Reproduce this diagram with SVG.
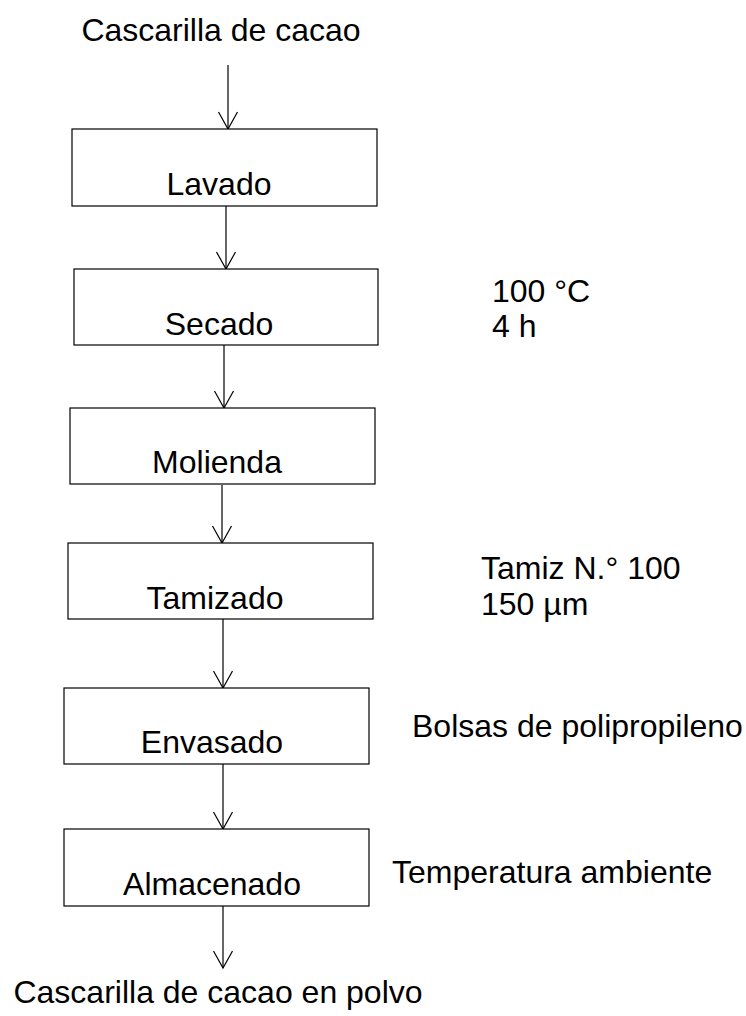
<svg xmlns="http://www.w3.org/2000/svg" width="746" height="1016" viewBox="0 0 746 1016">
<style>
text{font-family:"Liberation Sans",Arial,sans-serif;font-size:32px;fill:#000}
.lbl{text-anchor:middle}
.box{fill:#fff;stroke:#000;stroke-width:1.2}
.ar{fill:none;stroke:#000;stroke-width:1.2;marker-end:url(#ah)}
</style>
<defs>
<marker id="ah" markerUnits="userSpaceOnUse" viewBox="-19 -11 21 22" refX="0" refY="0" markerWidth="21" markerHeight="22" orient="auto">
<path d="M-17,-9.5 L0,0 L-17,9.5" fill="none" stroke="#000" stroke-width="1.2"/>
</marker>
</defs>
<rect width="746" height="1016" fill="#fff"/>
<g id="connectors">
<line class="ar" x1="228" y1="65" x2="228" y2="129"/>
<line class="ar" x1="226" y1="206" x2="226" y2="269"/>
<line class="ar" x1="224" y1="345" x2="224" y2="408"/>
<line class="ar" x1="222" y1="485" x2="222" y2="543"/>
<line class="ar" x1="223" y1="619" x2="223" y2="688"/>
<line class="ar" x1="223" y1="764" x2="223" y2="829"/>
<line class="ar" x1="223" y1="906" x2="223" y2="968"/>
</g>
<g id="input"><text class="lbl" x="221" y="41">Cascarilla de cacao</text></g>
<g id="lavado"><rect class="box" x="72" y="129" width="305" height="77"/><text class="lbl" x="219" y="195">Lavado</text></g>
<g id="secado"><rect class="box" x="74" y="269" width="304" height="76"/><text class="lbl" x="219" y="335">Secado</text></g>
<g id="molienda"><rect class="box" x="70" y="408" width="305" height="76"/><text class="lbl" x="217" y="473">Molienda</text></g>
<g id="tamizado"><rect class="box" x="68" y="543" width="305" height="76"/><text class="lbl" x="215" y="609">Tamizado</text></g>
<g id="envasado"><rect class="box" x="64" y="688" width="305" height="76"/><text class="lbl" x="212" y="753">Envasado</text></g>
<g id="almacenado"><rect class="box" x="64" y="829" width="305" height="77"/><text class="lbl" x="212" y="895">Almacenado</text></g>
<g id="output"><text class="lbl" x="218" y="1003">Cascarilla de cacao en polvo</text></g>
<g id="note-secado"><text x="492" y="302">100 °C</text><text x="492" y="337">4 h</text></g>
<g id="note-tamizado"><text x="481" y="579">Tamiz N.° 100</text><text x="481" y="615">150 µm</text></g>
<g id="note-envasado"><text x="412" y="737">Bolsas de polipropileno</text></g>
<g id="note-almacenado"><text x="392" y="883">Temperatura ambiente</text></g>
</svg>
